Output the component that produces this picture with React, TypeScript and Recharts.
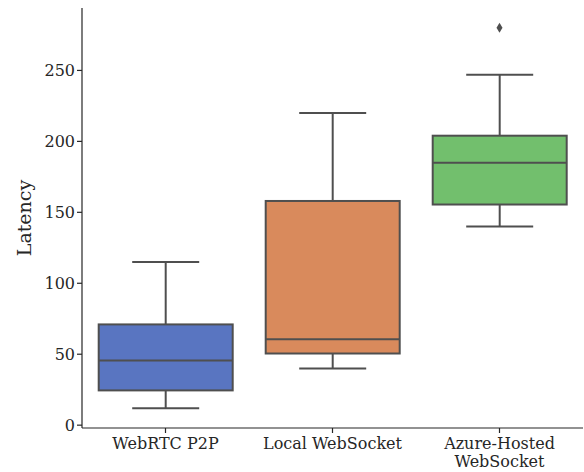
import React from 'react';
import { ComposedChart, Bar, Scatter, XAxis, YAxis, Label } from 'recharts';

// ── data ────────────────────────────────────────────────────
const categories = ['WebRTC P2P', 'Local WebSocket', 'Azure-Hosted\nWebSocket'];
const whiskerLow = [12, 40, 140];
const q1 = [24.5, 50.5, 155.5];
const median = [45.5, 60.5, 185];
const q3 = [71, 158, 204];
const whiskerHigh = [115, 220, 247];
const outliers = [null, null, 280];
const boxColors = ['#5975c1', '#d98a5c', '#72bf6d'];
const yTicks = [0, 50, 100, 150, 200, 250];

const data = categories.map((name, i) => ({
  name,
  low: whiskerLow[i],
  q1: q1[i],
  median: median[i],
  q3: q3[i],
  high: whiskerHigh[i],
  outlier: outliers[i],
  color: boxColors[i],
}));

const LINE = '#4f4f4f';
const FONT = "'DejaVu Serif', serif";

const BoxShape = (props: any) => {
  const { x, y, width, height, payload } = props;
  if (payload == null || height == null) return null;
  const unit = height / (payload.high - payload.low);
  const py = (v: number) => y + (payload.high - v) * unit;
  const cx = x + width / 2;
  const capHalf = width / 4;
  const top = py(payload.q3);
  const bottom = py(payload.q1);
  return (
    <g>
      <line x1={cx} x2={cx} y1={py(payload.high)} y2={top} stroke={LINE} strokeWidth={2} />
      <line x1={cx} x2={cx} y1={bottom} y2={py(payload.low)} stroke={LINE} strokeWidth={2} />
      <line x1={cx - capHalf} x2={cx + capHalf} y1={py(payload.high)} y2={py(payload.high)} stroke={LINE} strokeWidth={2} />
      <line x1={cx - capHalf} x2={cx + capHalf} y1={py(payload.low)} y2={py(payload.low)} stroke={LINE} strokeWidth={2} />
      <rect x={x} y={top} width={width} height={bottom - top} fill={payload.color} stroke={LINE} strokeWidth={2} />
      <line x1={x} x2={x + width} y1={py(payload.median)} y2={py(payload.median)} stroke={LINE} strokeWidth={2} />
    </g>
  );
};

const Diamond = (props: any) => {
  const { cx, cy, payload } = props;
  if (payload == null || payload.outlier == null || cx == null || cy == null) return null;
  return (
    <polygon
      points={`${cx},${cy - 5} ${cx + 3},${cy} ${cx},${cy + 5} ${cx - 3},${cy}`}
      fill={LINE}
    />
  );
};

const XTick = (props: any) => {
  const { x, y, payload } = props;
  const lines = String(payload.value).split('\n');
  return (
    <text x={x} y={y + 14} textAnchor="middle" style={{ fontFamily: FONT, fontSize: 16 }} fill="#262626">
      {lines.map((l, i) => (
        <tspan key={i} x={x} dy={i === 0 ? 0 : 18}>{l}</tspan>
      ))}
    </text>
  );
};

const YTick = (props: any) => {
  const { x, y, payload } = props;
  return (
    <text x={x} y={y} dy={6} textAnchor="end" style={{ fontFamily: FONT, fontSize: 16 }} fill="#262626">
      {payload.value}
    </text>
  );
};

export default function App() {
  return (
    <div style={{ position: 'absolute', left: 0, top: 0, width: 584, height: 472, background: '#fff', fontFamily: FONT }}>
      <ComposedChart
        width={584}
        height={472}
        data={data}
        margin={{ top: 8, right: 1, left: 0, bottom: 0 }}
        barCategoryGap="10%"
      >
        <XAxis
          dataKey="name"
          height={44}
          tick={<XTick />}
          tickLine={{ stroke: '#262626', strokeWidth: 1.2 }}
          tickSize={5}
          axisLine={{ stroke: '#262626', strokeWidth: 1.2 }}
          interval={0}
        />
        <YAxis
          width={82}
          domain={[-2, 294]}
          ticks={yTicks}
          tick={<YTick />}
          tickLine={{ stroke: '#262626', strokeWidth: 1.2 }}
          tickSize={5}
          axisLine={{ stroke: '#262626', strokeWidth: 1.2 }}
          allowDataOverflow
        >
          <Label
            value="Latency"
            angle={-90}
            position="insideLeft"
            offset={24}
            style={{ fontFamily: FONT, fontSize: 19, fill: '#262626', textAnchor: 'middle' }}
          />
        </YAxis>
        <Bar
          dataKey={(d: any) => [d.low, d.high]}
          shape={<BoxShape />}
          isAnimationActive={false}
        />
        <Scatter dataKey="outlier" shape={<Diamond />} isAnimationActive={false} />
      </ComposedChart>
    </div>
  );
}
